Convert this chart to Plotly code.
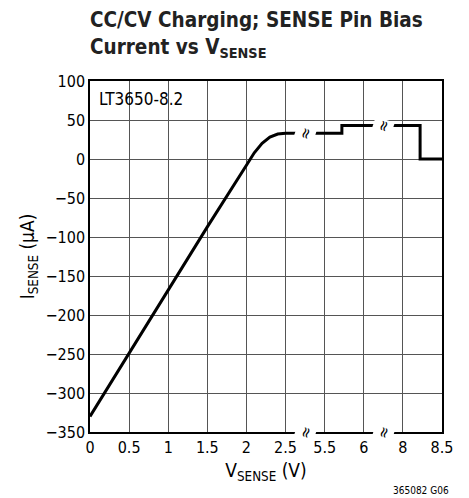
import numpy as np
import plotly.graph_objects as go

# tick labels of the broken x axis (V)
x_tick_values = [0, 0.5, 1, 1.5, 2, 2.5, 5.5, 6, 8, 8.5]
x_tick_labels = ["0", "0.5", "1", "1.5", "2", "2.5", "5.5", "6", "8", "8.5"]
# axis breaks (V between segments)
break_after = [2.5, 6]

# curve data: V_SENSE (V) vs I_SENSE (uA)
v_sense = [0.0, 0.5, 1.0, 1.5, 2.0, 2.1, 2.2, 2.3, 2.4, 2.5, 5.5, 5.72, 5.72, 6.0, 8.0, 8.22, 8.22, 8.5]
i_sense = [-330, -249, -168, -87, -8, 8, 20, 28, 32, 33, 33, 33, 43, 43, 43, 43, 0, 0]

FONT = "DejaVu Sans Condensed, DejaVu Sans, sans-serif"

idx = np.arange(len(x_tick_values))


def to_pos(v):
    return np.interp(v, x_tick_values, idx)


xpos = to_pos(v_sense)

fig = go.Figure()
fig.add_trace(go.Scatter(x=xpos, y=i_sense, mode="lines",
                         line=dict(color="black", width=3), hoverinfo="skip"))

# break marks at the middle of each gap
for b in break_after:
    k = x_tick_values.index(b)
    bp = (idx[k] + idx[k + 1]) / 2
    yline = float(np.interp(bp, xpos, i_sense))
    for yy in (yline, -350):
        fig.add_annotation(x=bp, y=yy, xref="x", yref="y", text="≈", showarrow=False,
                           textangle=-72, font=dict(size=16, color="black", family=FONT),
                           bgcolor="white", borderpad=0)

fig.add_annotation(x=0.02, y=100, xref="paper", yref="y", xanchor="left", yanchor="top",
                   yshift=-6, text="LT3650-8.2", showarrow=False,
                   font=dict(size=17, color="black", family=FONT))
fig.add_annotation(x=1.025, y=0, xref="paper", yref="paper", xanchor="right", yanchor="middle",
                   yshift=-58, text="365082 G06", showarrow=False,
                   font=dict(size=10, color="black", family=FONT))
# title
fig.add_annotation(x=-0.006, y=1, xref="paper", yref="paper", xanchor="left", yanchor="top",
                   yshift=75, align="left", showarrow=False,
                   text="<b>CC/CV Charging; SENSE Pin Bias<br>Current vs V<sub>SENSE</sub></b>",
                   font=dict(size=20.5, family=FONT, color="#222"))

fig.update_layout(
    width=469, height=498,
    margin=dict(l=90, r=27, t=81, b=66, autoexpand=False),
    paper_bgcolor="white", plot_bgcolor="white",
    showlegend=False,
    font=dict(family=FONT, size=16, color="black"),
)
fig.update_xaxes(range=[0, idx[-1]], tickvals=idx, ticktext=x_tick_labels,
                 showgrid=True, gridcolor="#555", gridwidth=1,
                 showline=True, linecolor="black", linewidth=1.5, mirror=True,
                 ticks="", zeroline=False, automargin=False,
                 title=dict(text="V<sub>SENSE</sub> (V)", standoff=8))
fig.update_yaxes(range=[-350, 100], dtick=50,
                 showgrid=True, gridcolor="#555", gridwidth=1,
                 showline=True, linecolor="black", linewidth=1.5, mirror=True,
                 ticks="", zeroline=False, automargin=False,
                 title=dict(text="I<sub>SENSE</sub> (µA)", standoff=6))

fig.write_html("out.html", config={"displayModeBar": False},
               post_script="document.body.style.margin='0';")
